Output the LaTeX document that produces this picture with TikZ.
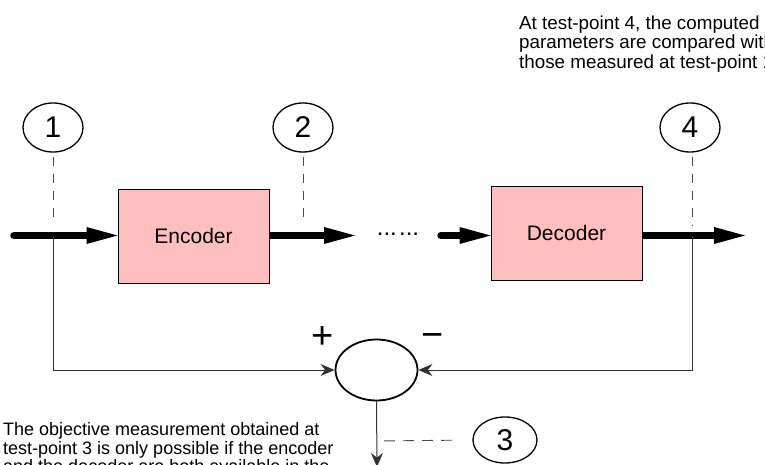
\documentclass[tikz,border=0pt]{standalone}
\usepackage{fontspec}
\setmainfont{Liberation Sans}
\usetikzlibrary{arrows.meta,shapes.geometric}
\tikzset{
  tpoint/.style={ellipse,draw,line width=1.3pt,minimum width=60pt,minimum height=49pt,inner sep=0pt,font=\fontsize{30}{31}\selectfont},
  codec/.style={draw,line width=0.9pt,fill={rgb,255:red,255;green,191;blue,191},minimum width=151pt,minimum height=94pt,inner sep=0pt,font=\fontsize{21}{24}\selectfont},
  bigarrow/.style={line width=7.5pt,-{Triangle[length=31pt,width=17pt,line width=0pt]}},
  probe/.style={draw=black!70,line width=0.9pt,dash pattern=on 9pt off 8pt},
  feed/.style={draw=black!80,line width=1pt,-{Stealth[length=14pt,width=12pt,inset=4.5pt]}},
  note/.style={align=left,inner sep=0pt,font=\fontsize{18}{18.6}\selectfont},
  sign/.style={inner sep=0pt,font=\fontsize{38}{40}\selectfont}
}
\begin{document}
\begin{tikzpicture}[x=1pt,y=-1pt]
\useasboundingbox (0,0) rectangle (765,465);
\clip (0,0) rectangle (765,465);
\fill[white] (0,0) rectangle (765,465);
% blocks
\node[codec] (enc) at (193.5,236) {Encoder};
\node[codec] (dec) at (566.5,233) {Decoder};
% test points
\node[tpoint] (e1) at (53,127.5) {1};
\node[tpoint] (e2) at (303,127.5) {2};
\node[tpoint] (e4) at (690,127.5) {4};
\node[tpoint,minimum width=64pt,minimum height=46pt] (e3) at (505,440) {3};
% summing junction
\node[ellipse,draw,line width=1.8pt,minimum width=82pt,minimum height=61pt,inner sep=0pt] (sum) at (376.5,370) {};
\node[sign] (plus) at (323,338) {+};
\node[sign] (minus) at (433,341) {−};
% coordinates
\coordinate (s0) at (14,235.5);
\coordinate (tp1) at (53,235.5);
\coordinate (tp2) at (303,235.5);
\coordinate (a2) at (355,235.5);
\coordinate (s1) at (441,235.5);
\coordinate (tp4) at (692,235.5);
\coordinate (a4) at (745,235.5);
\coordinate (tp3) at (377,441);
\coordinate (out) at (377,467);
% dots
\node[inner sep=0pt,font=\fontsize{24}{24}\selectfont] (dots) at (398,234) {...\kern2.3pt...};
% main signal path
\draw[bigarrow,line cap=round] (s0) -- (enc.west |- s0);
\draw[bigarrow] (enc.east |- s0) -- (a2);
\draw[bigarrow,line cap=round] (s1) -- (dec.west |- s1);
\draw[bigarrow] (dec.east |- s1) -- (a4);
% probes
\draw[probe,shorten <=4pt,shorten >=12.5pt] (e1.south) -- (tp1);
\draw[probe,shorten <=4pt,shorten >=12.5pt] (e2.south) -- (tp2);
\draw[probe,shorten <=4pt,shorten >=10.5pt] (tp4 |- e4.south) -- (tp4);
\draw[probe,dash pattern=on 11pt off 8pt,shorten <=7pt,shorten >=16pt] (tp3) -- (e3.west);
% feedback
\draw[feed] (tp1) |- (sum.west);
\draw[feed] (tp4) |- (sum.east);
\draw[feed] (sum.south) -- (out);
% notes
\node[note,anchor=north west,font=\fontsize{18.8}{19.4}\selectfont] (txt4) at (519,15.5) {At test-point 4, the computed\\parameters are compared with\\those measured at test-point 1};
\node[note,anchor=north west] (txt3) at (3,422.5) {The objective measurement obtained at\\test-point 3 is only possible if the encoder\\and the decoder are both available in the};
\end{tikzpicture}
\end{document}
